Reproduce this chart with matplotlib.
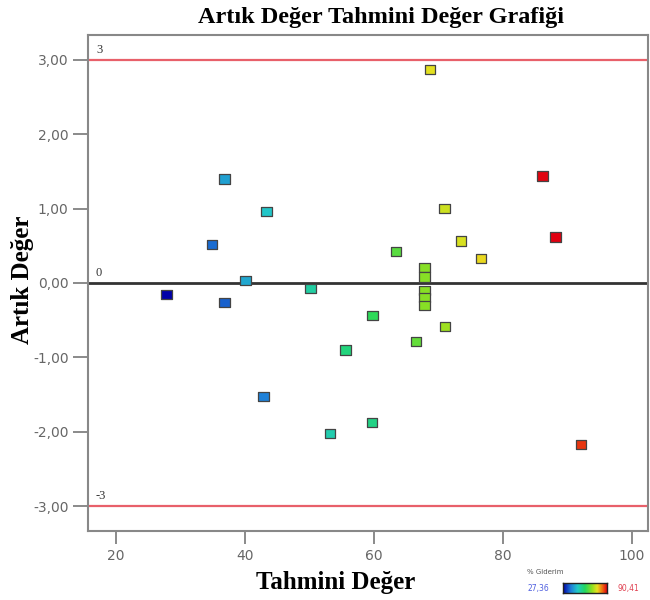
import numpy as np
import matplotlib
matplotlib.use("Agg")
import matplotlib.pyplot as plt
from matplotlib.colors import LinearSegmentedColormap, Normalize
from matplotlib.ticker import FuncFormatter
from matplotlib.path import Path

# ---- data ----
predicted = [27.8, 34.9, 36.8, 36.8, 40.1, 43.3, 42.9, 50.2, 53.2, 55.6, 59.7, 59.8,
             63.4, 66.5, 67.8, 67.8, 67.8, 67.8, 67.8, 68.7, 71.0, 70.9, 73.5, 76.6,
             86.1, 88.2, 92.1]
residual = [-0.16, 0.52, 1.40, -0.26, 0.03, 0.96, -1.53, -0.07, -2.02, -0.90, -1.88, -0.44,
            0.42, -0.79, 0.21, 0.08, -0.10, -0.19, -0.30, 2.87, -0.59, 1.00, 0.565, 0.33,
            1.44, 0.62, -2.17]
giderim = [27.4, 37, 43, 36, 44, 48, 39, 52, 51, 56, 55, 60,
           64, 65, 68, 68, 68, 68, 68, 76, 70, 74, 75, 77,
           90, 90.4, 87]
g_min, g_max = 27.36, 90.41
x_ticks = [20, 40, 60, 80, 100]
y_ticks = [-3, -2, -1, 0, 1, 2, 3]
limit_lines = [3, 0, -3]
limit_labels = ["3", "0", "-3"]

cmap = LinearSegmentedColormap.from_list(
    "de", [(0.0, "#0000a8"), (0.18, "#1f7fd8"), (0.33, "#22c8c8"),
           (0.5, "#22d860"), (0.66, "#90e020"), (0.78, "#e8e020"),
           (0.9, "#f06a10"), (1.0, "#e00010")])
norm = Normalize(g_min, g_max)

fig = plt.figure(figsize=(6.5, 6.0), dpi=100)
ax = fig.add_axes([88/650, 69/600, 560/650, 496/600])

ax.set_xlim(15.66, 102.5)
ax.set_ylim(-3.336, 3.336)

line_colors = ["#e8606a", "#333333", "#e8606a"]
line_widths = [1.6, 2.0, 1.6]
for v, lab, c, lw in zip(limit_lines, limit_labels, line_colors, line_widths):
    ax.axhline(v, color=c, lw=lw, zorder=1)
    ax.text(16.9, v + 0.05, lab, fontsize=9, family="Liberation Serif",
            color="#333333", ha="left", va="bottom")

rect = Path([(-1.15, -1), (1.15, -1), (1.15, 1), (-1.15, 1), (-1.15, -1)],
            [Path.MOVETO, Path.LINETO, Path.LINETO, Path.LINETO, Path.CLOSEPOLY])
ax.scatter(predicted, residual, c=giderim, cmap=cmap, norm=norm, marker=rect,
           s=58, edgecolors="#444444", linewidths=0.9, zorder=3)

ax.set_xticks(x_ticks)
ax.set_yticks(y_ticks)
ax.yaxis.set_major_formatter(FuncFormatter(lambda v, p: f"{v:.2f}".replace(".", ",")))
ax.tick_params(axis="both", direction="out", colors="#777777", labelcolor="#666666",
               labelsize=10, width=1.2)
ax.tick_params(axis="y", length=11, pad=3)
ax.tick_params(axis="x", length=9, pad=4)
for s in ax.spines.values():
    s.set_color("#888888")
    s.set_linewidth(1.5)

fig.text(381/650, 1 - 17/600, "Artık Değer Tahmini Değer Grafiği", ha="center", va="center",
         family="Liberation Serif", fontweight="bold", fontsize=17.5)
fig.text(336/650, 1 - 582/600, "Tahmini Değer", ha="center", va="center",
         family="Liberation Serif", fontweight="bold", fontsize=18)
fig.text(22/650, 1 - 280/600, "Artık Değer", ha="center", va="center", rotation=90,
         family="Liberation Serif", fontweight="bold", fontsize=18)

# colour legend
cax = fig.add_axes([563/650, 7/600, 44/650, 10/600])
cax.imshow(np.linspace(0, 1, 256)[None, :], aspect="auto", cmap=cmap)
cax.set_xticks([]); cax.set_yticks([])
for s in cax.spines.values():
    s.set_color("#222222"); s.set_linewidth(1.0)
fig.text(527/650, 1 - 572/600, "% Giderim", fontsize=5, color="#555555", ha="left", va="center")
fig.text(527/650, 1 - 589/600, f"{g_min:.2f}".replace(".", ","), fontsize=5.5,
         color="#5060e0", ha="left", va="center")
fig.text(617/650, 1 - 589/600, f"{g_max:.2f}".replace(".", ","), fontsize=5.5,
         color="#e04050", ha="left", va="center")

fig.savefig("out.png", dpi=100, facecolor="white")
